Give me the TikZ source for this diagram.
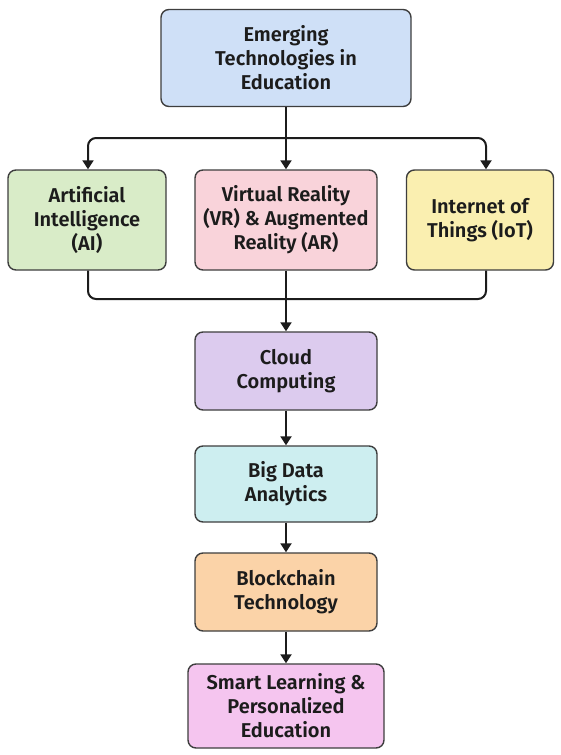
\documentclass[tikz,border=0pt]{standalone}
\usepackage{fontspec}
\setmainfont{Fira Sans}[UprightFont=* SemiBold, BoldFont=* Bold]
\usepackage{tikz}
\usetikzlibrary{arrows.meta, positioning}

\definecolor{ctop}{HTML}{CFE0F7}
\definecolor{cai}{HTML}{D9ECC8}
\definecolor{cvr}{HTML}{F9D3DA}
\definecolor{ciot}{HTML}{FAEFB0}
\definecolor{ccloud}{HTML}{DCCBEE}
\definecolor{cdata}{HTML}{CDEEF0}
\definecolor{cchain}{HTML}{FBD3A8}
\definecolor{csmart}{HTML}{F5C5EF}
\definecolor{cline}{HTML}{1C1C1C}

\tikzset{
    techbox/.style={draw=cline!85, line width=1.4pt, rounded corners=8pt,
        align=center, inner sep=4pt, text=cline,
        font=\fontsize{20}{24}\selectfont},
    flow/.style={draw=cline, line width=2pt, rounded corners=8pt,
        -{Triangle[length=9pt,width=11pt]}},
    link/.style={draw=cline, line width=2pt, rounded corners=8pt}
}

\begin{document}
\begin{tikzpicture}[x=1pt, y=-1pt]
    \useasboundingbox (0,0) rectangle (560,755);

    % main topic
    \node[techbox, fill=ctop, minimum width=250pt, minimum height=97pt] (edu) at (286,58)
        {Emerging\\Technologies in\\Education};

    % the three branches
    \node[techbox, fill=cai, minimum width=158pt, minimum height=100pt] (ai) at (87,220)
        {Artificial\\Intelligence\\(AI)};
    \node[techbox, fill=cvr, minimum width=182pt, minimum height=100pt] (vr) at (286,220)
        {Virtual Reality\\(VR) \& Augmented\\Reality (AR)};
    \node[techbox, fill=ciot, minimum width=147pt, minimum height=100pt] (iot) at (480,220)
        {Internet of\\Things (IoT)};

    % chain below
    \node[techbox, fill=ccloud, minimum width=182pt, minimum height=78pt] (cloud) at (286,371)
        {Cloud\\Computing};
    \node[techbox, fill=cdata, minimum width=182pt, minimum height=76pt] (data) at (286,484)
        {Big Data\\Analytics};
    \node[techbox, fill=cchain, minimum width=182pt, minimum height=78pt] (chain) at (286,592)
        {Blockchain\\Technology};
    \node[techbox, fill=csmart, minimum width=196pt, minimum height=84pt] (smart) at (286,706)
        {Smart Learning \&\\Personalized\\Education};

    \coordinate (split) at (286,138);
    \coordinate (merge) at (286,299);

    % fan out
    \draw[link] (edu.south) -- (split);
    \draw[flow] (split) -| ([xshift=1pt]ai.north);
    \draw[flow] (split) -| ([xshift=6pt]iot.north);
    \draw[flow] (split) -- (vr.north);

    % fan in
    \draw[link] ([xshift=1pt]ai.south) |- (merge);
    \draw[link] ([xshift=6pt]iot.south) |- (merge);
    \draw[flow] (vr.south) -- (cloud.north);

    \draw[flow] (cloud) -- (data);
    \draw[flow] (data) -- (chain);
    \draw[flow] (chain) -- (smart);
\end{tikzpicture}
\end{document}
